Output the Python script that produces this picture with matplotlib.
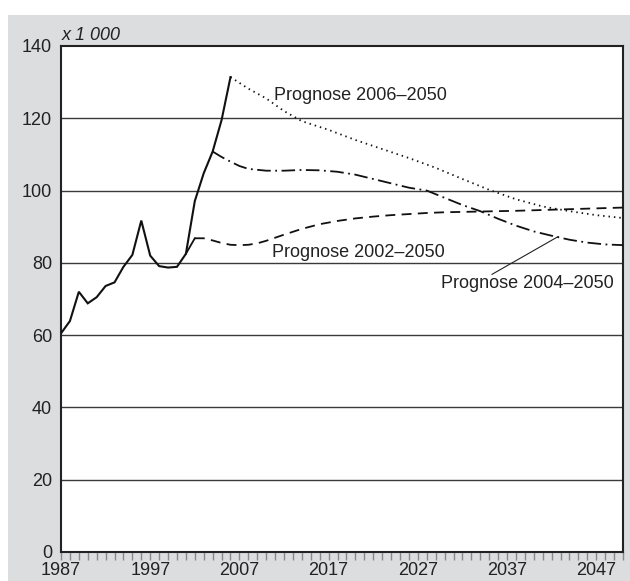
import matplotlib
matplotlib.use("Agg")
import matplotlib.pyplot as plt
from matplotlib.patches import Rectangle

plt.rcParams['font.family'] = ['Liberation Sans', 'DejaVu Sans']

# Actual values (x 1 000)
years_actual = [1987, 1988, 1989, 1990, 1991, 1992, 1993, 1994, 1995, 1996,
                1997, 1998, 1999, 2000, 2001, 2002, 2003, 2004, 2005, 2006]
actual = [60.5, 63.9, 72.0, 68.8, 70.5, 73.6, 74.6, 78.9, 82.2, 91.7,
          82.0, 79.1, 78.7, 78.9, 82.5, 97.1, 104.8, 110.8, 119.5, 131.4]

# Prognose 2002-2050 (dashed)
years_p2002 = [2002, 2003, 2004, 2005, 2006, 2007, 2008, 2009, 2010, 2012,
               2014, 2016, 2018, 2020, 2022, 2024, 2026, 2028, 2030, 2034,
               2038, 2042, 2046, 2050]
p2002 = [86.8, 86.8, 86.2, 85.5, 85.0, 84.9, 85.0, 85.4, 86.1, 87.8,
         89.4, 90.7, 91.6, 92.3, 92.8, 93.2, 93.5, 93.8, 94.0, 94.2,
         94.4, 94.7, 95.0, 95.3]

# Prognose 2004-2050 (dash-dot)
years_p2004 = [2004, 2005, 2006, 2007, 2008, 2010, 2012, 2014, 2016, 2018,
               2020, 2022, 2024, 2026, 2028, 2030, 2032, 2034, 2036, 2038,
               2040, 2042, 2044, 2046, 2048, 2050]
p2004 = [110.8, 109.3, 108.0, 106.8, 106.0, 105.5, 105.5, 105.7, 105.6, 105.2,
         104.4, 103.2, 102.0, 100.8, 100.0, 98.0, 96.0, 94.3, 92.2, 90.3,
         88.7, 87.5, 86.4, 85.6, 85.1, 84.9]

# Prognose 2006-2050 (dotted)
years_p2006 = [2006, 2008, 2010, 2012, 2014, 2017, 2020, 2023, 2026, 2029,
               2032, 2035, 2038, 2041, 2044, 2047, 2050]
p2006 = [131.4, 128.2, 125.5, 122.0, 119.2, 116.8, 114.0, 111.5, 109.0, 106.3,
         103.2, 100.2, 97.6, 95.6, 94.3, 93.2, 92.4]

y_ticks = [0, 20, 40, 60, 80, 100, 120, 140]
x_ticks = [1987, 1997, 2007, 2017, 2027, 2037, 2047]

W, H = 630, 581
fig = plt.figure(figsize=(W / 100, H / 100), dpi=100, facecolor='white')
# grey panel
fig.patches.append(Rectangle((8 / W, 0), 1 - 8 / W, 1 - 15 / H,
                             transform=fig.transFigure, facecolor='#dcdddf',
                             edgecolor='none', zorder=-5))

ax = fig.add_axes([61 / W, (H - 552) / H, 562 / W, 506 / H])
ax.set_zorder(5)
ax.set_facecolor('white')
ax.set_xlim(1987, 2050)
ax.set_ylim(0, 140)

for v in y_ticks[1:-1]:
    ax.axhline(v, color='#3a3a3a', lw=1.0, zorder=1)

# actual
ax.plot(years_actual, actual, color='#111111', lw=1.5, zorder=3,
        solid_joinstyle='miter')
# 2002 prognosis: solid link from actual 2001
i01 = years_actual.index(2001)
ax.plot([years_actual[i01], years_p2002[0]], [actual[i01], p2002[0]],
        color='#111111', lw=1.3, zorder=3)
ax.plot(years_p2002, p2002, color='#111111', lw=1.3,
        linestyle=(0, (5.5, 3.5)), zorder=3)
ax.plot(years_p2004, p2004, color='#111111', lw=1.3,
        linestyle=(0, (7.5, 2.5, 1, 2.5)), zorder=3)
ax.plot(years_p2006, p2006, color='#111111', lw=1.3,
        linestyle=(0, (0.8, 2.2)), zorder=3)

fs = 13
ax.text(2010.9, 126.2, 'Prognose 2006–2050',
        fontsize=fs, color='#222222', va='center', ha='left')
ax.text(2010.6, 83.0, 'Prognose 2002–2050', fontsize=fs, color='#222222',
        va='center', ha='left')
ax.text(2029.6, 74.4, 'Prognose 2004–2050', fontsize=fs, color='#222222',
        va='center', ha='left')
ax.annotate('', xy=(2042.75, 87.3), xytext=(2035.3, 76.8),
            arrowprops=dict(arrowstyle='-', color='#222222', lw=0.8,
                            shrinkA=0, shrinkB=0))

ax.set_yticks(y_ticks)
ax.set_yticklabels([str(v) for v in y_ticks])
ax.set_xticks(x_ticks)
ax.set_xticklabels([str(v) for v in x_ticks])
ax.set_xticks(list(range(1987, 2051)), minor=True)
ax.tick_params(axis='y', length=0, pad=6.5, labelsize=fs, labelcolor='#222222')
ax.tick_params(axis='x', which='both', direction='out', length=6,
               width=1.0, color='#8a8a8a', labelsize=fs,
               labelcolor='#222222', pad=1)
for s in ax.spines.values():
    s.set_color('#222222')
    s.set_linewidth(1.5)

fig.text(62 / W, 1 - 35 / H, 'x 1 000', fontsize=13, style='italic',
         color='#222222', va='center', ha='left')

fig.savefig('out.png', dpi=100, facecolor=fig.get_facecolor())
